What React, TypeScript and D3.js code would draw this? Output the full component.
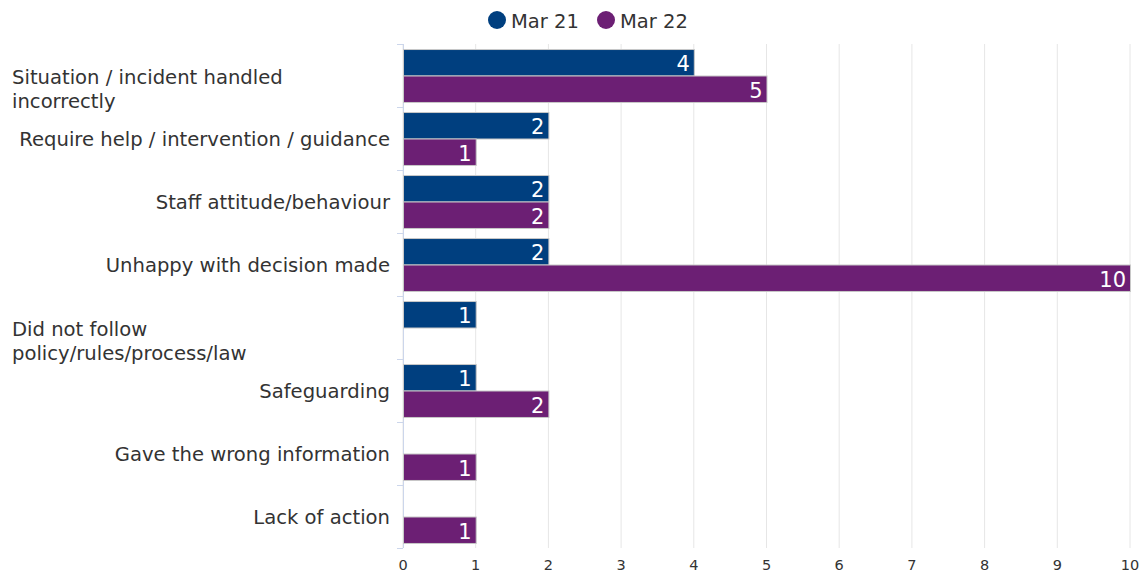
import React from "react";
import * as d3 from "d3";

// categories and values
const categories: string[][] = [
  ["Situation / incident handled", "incorrectly"],
  ["Require help / intervention / guidance"],
  ["Staff attitude/behaviour"],
  ["Unhappy with decision made"],
  ["Did not follow", "policy/rules/process/law"],
  ["Safeguarding"],
  ["Gave the wrong information"],
  ["Lack of action"],
];
const mar21: (number | null)[] = [4, 2, 2, 2, 1, 1, null, null];
const mar22: (number | null)[] = [5, 1, 2, 10, null, 2, 1, 1];
const seriesNames = ["Mar 21", "Mar 22"];
const seriesColors = ["#003f7f", "#6c1f74"];
const xTicks = [0, 1, 2, 3, 4, 5, 6, 7, 8, 9, 10];

const W = 1143;
const H = 574;
const FONT = "'DejaVu Sans', Verdana, sans-serif";

export default function App() {
  const x = d3.scaleLinear().domain([0, 10]).range([403, 1130]);
  const y = d3
    .scaleBand<number>()
    .domain(categories.map((_, i) => i))
    .range([44, 548]);
  const inner = d3
    .scaleBand<number>()
    .domain([0, 1])
    .range([0, y.bandwidth()])
    .paddingOuter(0.19);

  const series = [mar21, mar22];

  return (
    <svg
      width={W}
      height={H}
      style={{ position: "absolute", left: 0, top: 0, fontFamily: FONT }}
    >
      <rect width={W} height={H} fill="#fff" />
      {/* grid */}
      {xTicks.map((t) => (
        <line key={t} x1={x(t)} x2={x(t)} y1={44} y2={548} stroke="#e6e6e6" />
      ))}
      {/* left axis */}
      <line x1={403.5} x2={403.5} y1={44} y2={548} stroke="#ccd6eb" />
      {categories.map((_, i) => (
        <line
          key={i}
          x1={397}
          x2={403}
          y1={(y(i) as number) + 0.5}
          y2={(y(i) as number) + 0.5}
          stroke="#ccd6eb"
        />
      ))}
      <line x1={397} x2={403} y1={548.5} y2={548.5} stroke="#ccd6eb" />

      {/* bars */}
      {series.map((vals, s) =>
        vals.map((v, i) => {
          if (v == null) return null;
          const y0 = (y(i) as number) + (inner(s) as number);
          const h = inner.bandwidth();
          return (
            <g key={`${s}-${i}`}>
              <rect
                x={x(0) + 0.5}
                y={y0 + 0.5}
                width={x(v) - x(0)}
                height={h}
                fill={seriesColors[s]}
                stroke="#c8c8c8"
                strokeWidth={1}
              />
              <text
                x={x(v) - 4}
                y={y0 + h / 2 + 9}
                textAnchor="end"
                fill="#fff"
                fontSize={21}
              >
                {v}
              </text>
            </g>
          );
        })
      )}

      {/* category labels */}
      {categories.map((lines, i) => {
        const cy = (y(i) as number) + y.bandwidth() / 2;
        const multi = lines.length > 1;
        return (
          <text
            key={i}
            x={multi ? 12 : 390}
            textAnchor={multi ? "start" : "end"}
            fontSize={19.6}
            fill="#333"
          >
            {lines.map((l, k) => (
              <tspan
                key={k}
                x={multi ? 12 : 390}
                y={cy + (multi ? 8.5 + k * 24 : 7.5)}
              >
                {l}
              </tspan>
            ))}
          </text>
        );
      })}

      {/* x tick labels */}
      {xTicks.map((t) => (
        <text
          key={t}
          x={x(t)}
          y={569.5}
          textAnchor="middle"
          fontSize={14.5}
          fill="#333"
        >
          {t}
        </text>
      ))}

      {/* legend */}
      {seriesNames.map((n, s) => (
        <g key={n} transform={`translate(${497 + s * 109},20)`}>
          <circle r={9} fill={seriesColors[s]} />
          <text x={14} y={8} fontSize={19.5} fill="#333">
            {n}
          </text>
        </g>
      ))}
    </svg>
  );
}
